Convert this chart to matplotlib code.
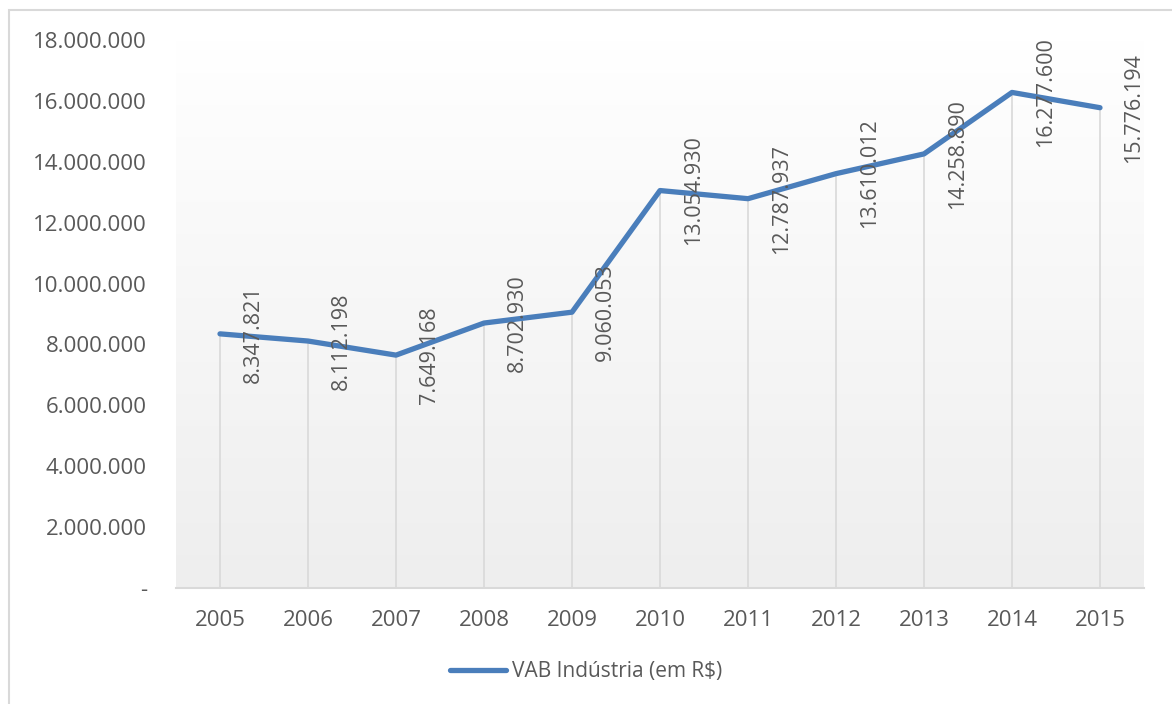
import numpy as np
import matplotlib
matplotlib.use("Agg")
import matplotlib.pyplot as plt
from matplotlib.patches import Rectangle

anos = ["2005", "2006", "2007", "2008", "2009", "2010",
        "2011", "2012", "2013", "2014", "2015"]
vab = [8347821, 8112198, 7649168, 8702930, 9060053, 13054930,
       12787937, 13610012, 14258890, 16277600, 15776194]
yticks = [0, 2000000, 4000000, 6000000, 8000000, 10000000,
          12000000, 14000000, 16000000, 18000000]

azul = "#4a7ebb"
cinza_txt = "#595959"
plt.rcParams['font.family'] = ['Open Sans', 'DejaVu Sans']


def fmt(v):
    if v == 0:
        return "-"
    return f"{v:,}".replace(",", ".")


W, H = 1172, 704
fig = plt.figure(figsize=(W / 100, H / 100), dpi=100)

# moldura externa do grafico
fig.patches.append(Rectangle((9 / W, -0.1), 1.2, (H - 10) / H + 0.1,
                             transform=fig.transFigure, fill=False,
                             edgecolor="#d9d9d9", linewidth=1.5))

ax = fig.add_axes([176 / W, 1 - 588 / H, (1144 - 176) / W, (588 - 40) / H])
x = np.arange(len(anos))
ax.set_xlim(-0.5, len(anos) - 0.5)
ax.set_ylim(0, 18000000)

# fundo em degrade (branco em cima, cinza claro embaixo)
grad = np.linspace(1.0, 0.0, 256).reshape(-1, 1)
ax.imshow(grad, cmap=matplotlib.colors.LinearSegmentedColormap.from_list(
    "g", ["#eeeeee", "#ffffff"]), aspect="auto",
    extent=(-0.5, len(anos) - 0.5, 0, 18000000), origin="upper", zorder=0,
    vmin=0, vmax=1)

# linhas de queda ate o eixo
ax.vlines(x, 0, vab, colors="#d9d9d9", linewidth=1.2, zorder=1)
ax.plot(x, vab, color=azul, linewidth=3.8, solid_capstyle="round",
        solid_joinstyle="round", zorder=3, label="VAB Indústria (em R$)")

for xi, v in zip(x, vab):
    ax.annotate(fmt(v), (xi, v), xytext=(24, 0), textcoords="offset points",
                rotation=90, ha="center", va="center", fontsize=15.5,
                color=cinza_txt, zorder=4)

for s in ["top", "right", "left"]:
    ax.spines[s].set_visible(False)
ax.spines["bottom"].set_color("#d9d9d9")
ax.spines["bottom"].set_linewidth(1.5)

ax.set_xticks(x)
ax.set_xticklabels(anos)
ax.set_yticks(yticks)
ax.set_yticklabels([fmt(t) for t in yticks])
ax.tick_params(axis="both", length=0, labelsize=16, colors=cinza_txt)
ax.tick_params(axis="x", pad=16)
ax.tick_params(axis="y", pad=21)

leg = fig.legend(loc="center", bbox_to_anchor=(0.5, 1 - 672 / H),
                 frameon=False, fontsize=15, handlelength=2.7,
                 handletextpad=0.3)
for t in leg.get_texts():
    t.set_color(cinza_txt)

fig.savefig("out.png", dpi=100)
